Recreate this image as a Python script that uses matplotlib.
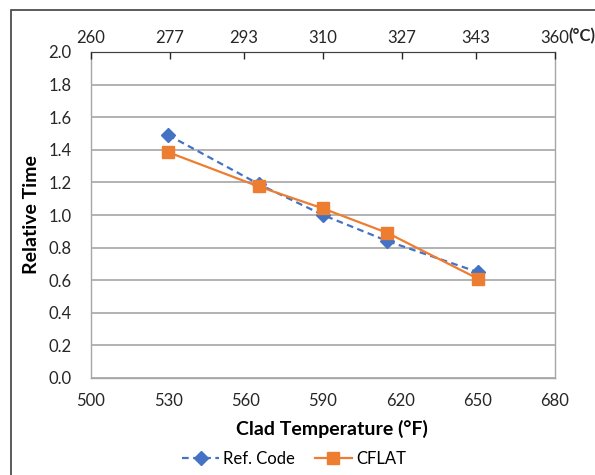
import numpy as np
import matplotlib.pyplot as plt
from matplotlib.patches import Rectangle

# data
temp_f = [530, 565, 590, 615, 650]
ref_code = [1.49, 1.19, 1.00, 0.84, 0.65]
cflat = [1.385, 1.175, 1.04, 0.89, 0.61]

x_ticks_f = [500, 530, 560, 590, 620, 650, 680]
x_ticks_c = [260, 277, 293, 310, 327, 343, 360]
y_ticks = np.arange(0, 2.01, 0.2)

blue = "#4472C4"
orange = "#ED7D31"
grid_c = "#A6A6A6"

plt.rcParams["font.family"] = ["Lato", "DejaVu Sans"]

fig = plt.figure(figsize=(5.95, 4.75), dpi=100)
ax = fig.add_axes([91 / 595, 1 - 378 / 475, (555 - 91) / 595, (378 - 52) / 475])

# outer chart border (only left and top visible in the crop)
fig.patches.append(Rectangle((11 / 595, -0.1), 1.2, 1 - 10 / 475 + 0.1,
                             transform=fig.transFigure, fill=False,
                             edgecolor="#404040", linewidth=1.2))

ax.plot(temp_f, ref_code, color=blue, linestyle=(0, (3, 2)), linewidth=1.6,
        marker="D", markersize=7.5, label="Ref. Code")
ax.plot(temp_f, cflat, color=orange, linestyle="-", linewidth=1.6,
        marker="s", markersize=8, label="CFLAT")

ax.set_xlim(500, 680)
ax.set_ylim(0, 2.0)
ax.set_xticks(x_ticks_f)
ax.set_yticks(y_ticks)
ax.set_yticklabels([f"{v:.1f}" for v in y_ticks])
ax.tick_params(axis="both", length=0, labelsize=12, colors="#262626")
ax.tick_params(axis="x", pad=11)
ax.tick_params(axis="y", pad=14)
ax.yaxis.grid(True, color=grid_c, linewidth=1.2)
ax.set_axisbelow(True)
for side in ["left", "right", "bottom"]:
    ax.spines[side].set_color(grid_c)
    ax.spines[side].set_linewidth(1.0)
ax.spines["top"].set_color("#404040")

ax.set_xlabel("Clad Temperature (\u00b0F)", fontsize=14, fontweight="bold", labelpad=5)
ax.xaxis.set_label_coords(0.52, -0.13)
ax.set_ylabel("Relative Time", fontsize=14, fontweight="bold", labelpad=6)

# Celsius scale along the top
top = ax.twiny()
top.set_xlim(260, 360)
top.set_xticks(x_ticks_c)
top.set_xticklabels([str(v) for v in x_ticks_c])
top.tick_params(axis="x", direction="in", length=5, width=1, colors="#262626",
                labelsize=12, pad=4)
for side in ["left", "right", "bottom"]:
    top.spines[side].set_visible(False)
top.spines["top"].set_color("#404040")
fig.text(568 / 595, 1 - 36 / 475, "(\u00b0C)", fontsize=12, fontweight="bold",
         ha="left", va="center", color="#262626")

fig.legend(loc="center", bbox_to_anchor=(294 / 595, 1 - 459 / 475), ncol=2,
           frameon=False, fontsize=12, handlelength=2.2, columnspacing=1.2,
           handletextpad=0.25)

fig.savefig("out.png", dpi=100)
